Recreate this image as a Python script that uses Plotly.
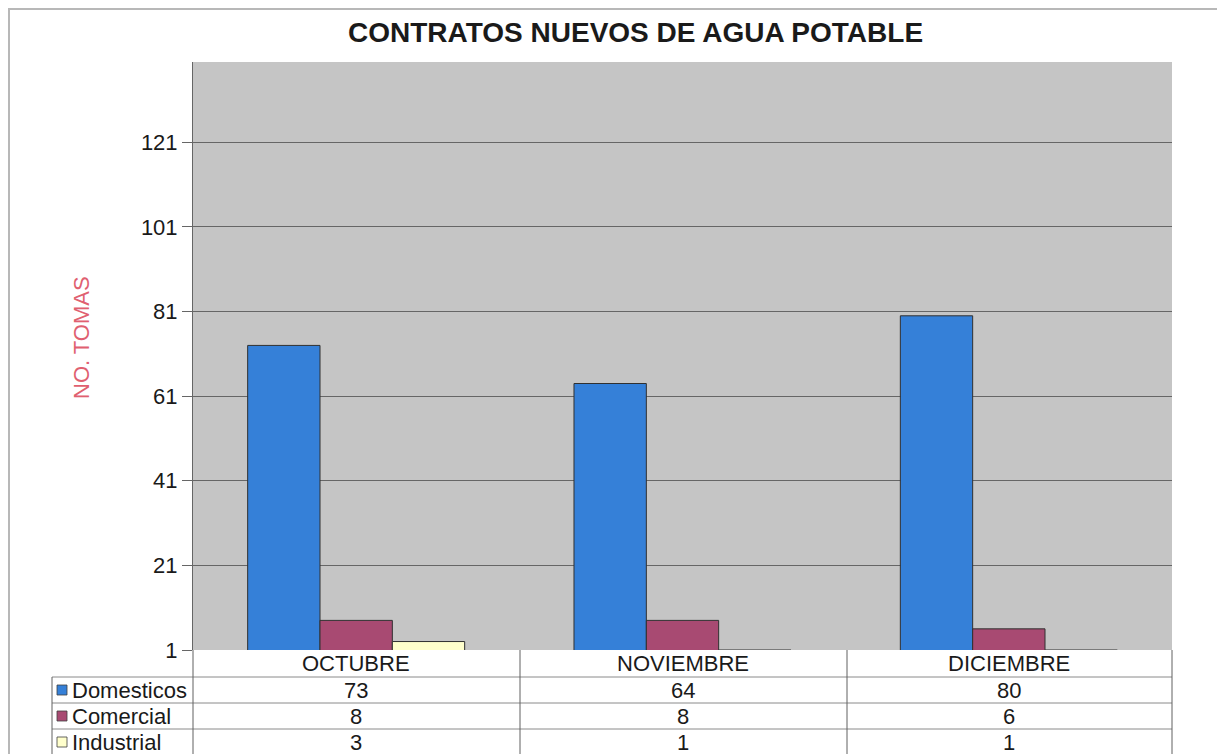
import plotly.graph_objects as go

months = ["OCTUBRE", "NOVIEMBRE", "DICIEMBRE"]
series_names = ["Domesticos", "Comercial", "Industrial"]
domesticos = [73, 64, 80]
comercial = [8, 8, 6]
industrial = [3, 1, 1]
series_values = [domesticos, comercial, industrial]
colors = ["#3580d8", "#a84a72", "#ffffcc"]
y_ticks = [1, 21, 41, 61, 81, 101, 121]

OFF = 8  # default page body margin
W, H = 1225 - OFF, 754 - OFF
# plot area in page pixel coordinates
L, R, T, B = 193, 1172, 62, 650


def px(x):
    return (x - L) / (R - L)


def py(y):
    return (B - y) / (B - T)


fig = go.Figure()
for name, vals, col in zip(series_names, series_values, colors):
    fig.add_trace(go.Bar(
        x=months, y=vals, name=name,
        marker=dict(color=col, line=dict(color="#303030", width=1)),
        showlegend=False,
    ))

shapes = []
annotations = []
line_col = "#8a8a8a"
FS = 22
# outer frame
shapes.append(dict(type="rect", xref="paper", yref="paper",
                   x0=px(OFF + 1), x1=px(1221), y0=py(770), y1=py(OFF + 1),
                   line=dict(color="#b8b8b8", width=2)))
# table horizontal lines
for yy in [677, 703, 729]:
    shapes.append(dict(type="line", xref="paper", yref="paper",
                       x0=px(52), x1=px(1172), y0=py(yy), y1=py(yy),
                       line=dict(color=line_col, width=1)))
# table vertical lines
for xx in [193, 520, 847, 1172]:
    shapes.append(dict(type="line", xref="paper", yref="paper",
                       x0=px(xx), x1=px(xx), y0=py(650), y1=py(770),
                       line=dict(color="#606060", width=1)))
shapes.append(dict(type="line", xref="paper", yref="paper",
                   x0=px(52), x1=px(52), y0=py(677), y1=py(770),
                   line=dict(color="#606060", width=1)))

col_centers = [356, 683, 1009]
row_centers = [690, 716, 742]
header_center = 663
for m, cx in zip(months, col_centers):
    annotations.append(dict(text=m, xref="paper", yref="paper",
                            x=px(cx), y=py(header_center), showarrow=False,
                            font=dict(family="Arial", size=FS, color="#1a1a1a"),
                            xanchor="center", yanchor="middle"))
for name, vals, col, rc in zip(series_names, series_values, colors, row_centers):
    shapes.append(dict(type="rect", xref="paper", yref="paper",
                       x0=px(57), x1=px(67), y0=py(rc + 5), y1=py(rc - 5),
                       fillcolor=col, line=dict(color="#404040", width=0.8)))
    annotations.append(dict(text=name, xref="paper", yref="paper",
                            x=px(70), y=py(rc), showarrow=False,
                            font=dict(family="Arial", size=FS, color="#1a1a1a"),
                            xanchor="left", yanchor="middle"))
    for v, cx in zip(vals, col_centers):
        annotations.append(dict(text=str(v), xref="paper", yref="paper",
                                x=px(cx), y=py(rc), showarrow=False,
                                font=dict(family="Arial", size=FS, color="#1a1a1a"),
                                xanchor="center", yanchor="middle"))

# y-axis title
annotations.append(dict(text="NO. TOMAS", xref="paper", yref="paper",
                        x=px(81), y=py(338), showarrow=False, textangle=-90,
                        font=dict(family="Arial", size=FS, color="#e06070"),
                        xanchor="center", yanchor="middle"))
# title
annotations.append(dict(text="<b>CONTRATOS NUEVOS DE AGUA POTABLE</b>",
                        xref="paper", yref="paper",
                        x=px(635), y=py(33), showarrow=False,
                        font=dict(family="Arial", size=28, color="#1a1a1a"),
                        xanchor="center", yanchor="middle"))

fig.update_layout(
    width=W, height=H,
    margin=dict(l=L - OFF, r=W - (R - OFF), t=T - OFF, b=H - (B - OFF), pad=0),
    paper_bgcolor="white",
    plot_bgcolor="#c5c5c5",
    barmode="group",
    bargap=0.335,
    bargroupgap=0,
    xaxis=dict(showticklabels=False, showgrid=False, showline=False, ticks=""),
    yaxis=dict(range=[1, 140], tickvals=y_ticks, ticktext=[str(t) for t in y_ticks],
               showgrid=True, gridcolor="#666666", gridwidth=1,
               ticks="outside", ticklen=10, tickcolor="#666666",
               showline=True, linecolor="#666666", linewidth=1,
               zeroline=False,
               tickfont=dict(family="Arial", size=FS, color="#1a1a1a")),
    shapes=shapes,
    annotations=annotations,
)

fig.write_html("out.html")
